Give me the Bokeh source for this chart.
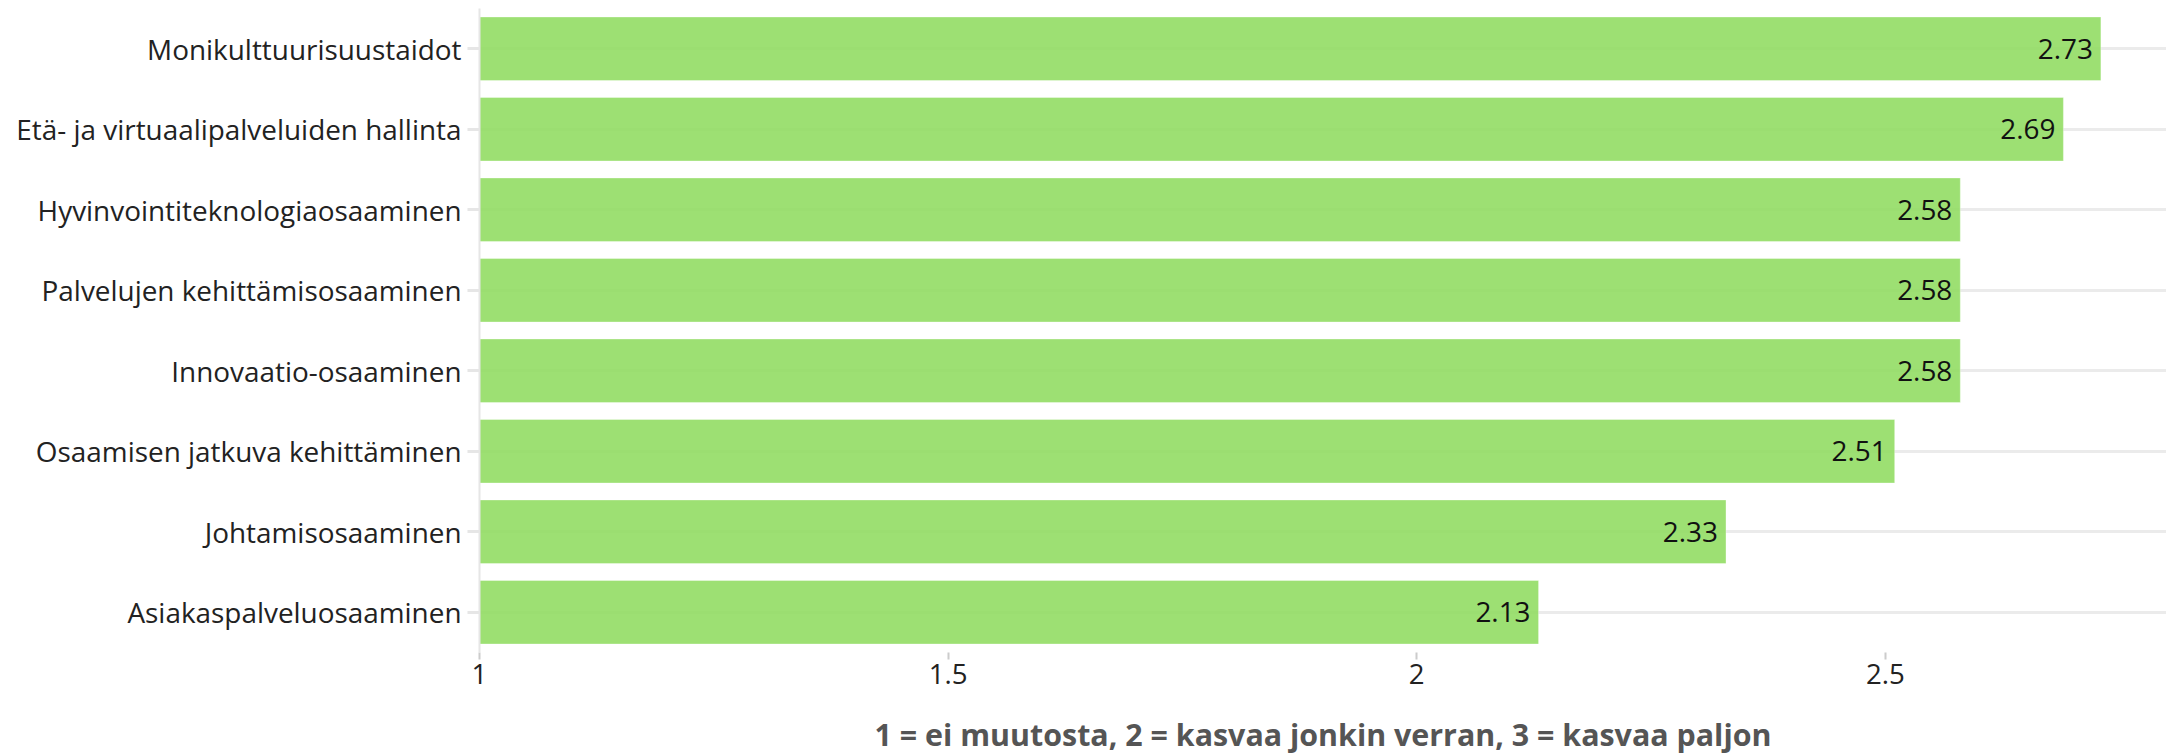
from bokeh.plotting import figure
from bokeh.layouts import column
from bokeh.models import ColumnDataSource, FactorRange, Range1d, FixedTicker
from bokeh.core.properties import value
from bokeh.embed import file_html
from bokeh.resources import INLINE

categories = [
    "Monikulttuurisuustaidot",
    "Etä- ja virtuaalipalveluiden hallinta",
    "Hyvinvointiteknologiaosaaminen",
    "Palvelujen kehittämisosaaminen",
    "Innovaatio-osaaminen",
    "Osaamisen jatkuva kehittäminen",
    "Johtamisosaaminen",
    "Asiakaspalveluosaaminen",
]
scores = [2.73, 2.69, 2.58, 2.58, 2.58, 2.51, 2.33, 2.13]
x_ticks = [1, 1.5, 2, 2.5]
x_tick_labels = ["1", "1.5", "2", "2.5"]
x_min, x_max = 1, 2.8
x_title = "1 = ei muutosta, 2 = kasvaa jonkin verran, 3 = kasvaa paljon"

FONT = "Open Sans"
FS = "27.9px"

source = ColumnDataSource(dict(
    cat=categories,
    val=scores,
    left=[float(x_min)] * len(scores),
    lbl=[f"{v:.2f}" for v in scores],
))

x_range = Range1d(x_min, x_max)

p = figure(
    width=2166, height=700,
    y_range=FactorRange(factors=list(reversed(categories)), range_padding=0),
    x_range=x_range,
    output_backend="svg", toolbar_location=None,
    min_border_left=479, min_border_right=0, min_border_top=8, min_border_bottom=48,
)
p.outline_line_color = None
p.background_fill_color = "white"
p.border_fill_color = "white"

p.hbar(y="cat", left="left", right="val", height=0.79, source=source,
       fill_color="#90dc60", fill_alpha=0.88, line_color="white", line_alpha=0.35, line_width=1)

p.text(x="val", y="cat", text="lbl", source=source, text_align="right", text_baseline="middle",
       x_offset=-8, text_font=value(FONT), text_font_size=FS, text_color="#111111")

# grids
p.xgrid.visible = False
p.ygrid.grid_line_color = "#ebebeb"
p.ygrid.grid_line_width = 3

# x axis
xa = p.xaxis[0]
xa.ticker = FixedTicker(ticks=x_ticks)
xa.major_label_overrides = {t: l for t, l in zip(x_ticks, x_tick_labels)}
xa.axis_line_color = None
xa.major_tick_out = 7
xa.major_tick_in = 0
xa.major_tick_line_color = "#cccccc"
xa.major_tick_line_width = 2
xa.minor_tick_line_color = None
xa.major_label_text_font = FONT
xa.major_label_text_font_size = "27.6px"
xa.major_label_text_color = "#222222"
xa.major_label_standoff = 4

# y axis
ya = p.yaxis[0]
ya.axis_line_color = "#e6e6e6"
ya.axis_line_width = 2
ya.major_tick_out = 12
ya.major_tick_in = 0
ya.major_tick_line_color = "#e6e6e6"
ya.major_tick_line_width = 3
ya.major_label_text_font = FONT
ya.major_label_text_font_size = FS
ya.major_label_text_color = "#222222"
ya.major_label_standoff = 6

# strip below the chart carrying the x-axis title, centred on the plot frame
t = figure(
    width=2166, height=56, x_range=x_range, y_range=Range1d(0, 56),
    output_backend="svg", toolbar_location=None,
    x_axis_location=None, y_axis_location=None,
    min_border_left=479, min_border_right=0, min_border_top=0, min_border_bottom=0,
)
t.outline_line_color = None
t.grid.visible = False
t.background_fill_color = "white"
t.border_fill_color = "white"
t.text(x=[(x_min + x_max) / 2], y=[22], text=[x_title], text_align="center",
       text_baseline="middle", text_font=value(FONT), text_font_size="30.4px",
       text_font_style="bold", text_color="#555555")

layout = column(p, t, spacing=0)
open("out.html", "w").write(file_html(layout, INLINE))
